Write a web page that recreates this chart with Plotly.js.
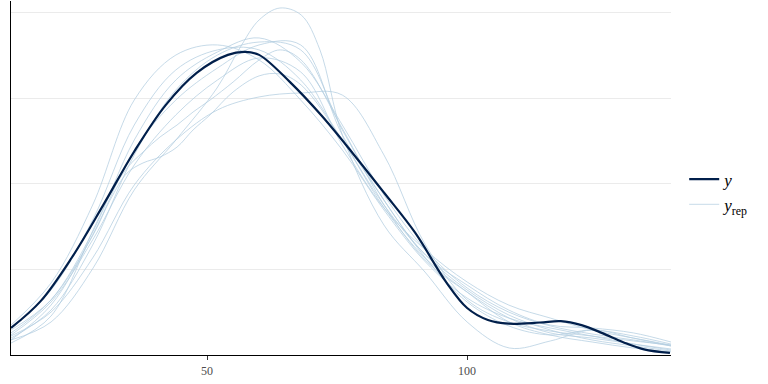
<!DOCTYPE html>
<html>
<head>
<meta charset="utf-8">
<script src="https://cdn.plot.ly/plotly-3.0.1.min.js"></script>
<style>html,body{margin:0;padding:0;background:#fff;}#chart{width:768px;height:384px;}</style>
</head>
<body>
<div id="chart"></div>
<script>
// Observed density (y), values in density x 1000
const yX = [12.3,18,24,30,36,42,48,54,57.3,60,66,72,78,84,90,96,100,104,108,114,118,122,126,130,134,139];
const yDens = [1.58,3.15,5.70,8.75,11.9,14.6,16.5,17.55,17.72,17.55,15.94,14.0,11.8,9.5,7.15,4.25,2.75,2.05,1.83,1.90,1.98,1.75,1.28,0.75,0.33,0.12];

// Replicated densities (y_rep)
const repX = [12.3,20,28,36,44,52,60,68,76,84,92,100,108,116,124,132,139.2];
const shX = [12.31,20.0,28.08,31.35,34.62,37.69,40.96,44.23,47.31,50.58,55.0,60.0,64.04,68.08,75.96,84.04,91.92,100,108.08,115.96,124.04,131.92,139.23];
const rep1X = [12.3,20,28.1,36,44,51.9,56.3,60,64,68.1,71.7,76,84,91.9,100,108.1,116,124,131.9,139.2];
const rep1 = [0.88,1.93,5.09,9.65,12.57,15.61,17.95,19.59,20.29,19.88,17.84,12.87,7.60,4.85,1.93,0.41,0.82,1.46,0.99,0.53];
const rep2 = [1.11,2.51,5.67,9.94,12.57,14.33,15.09,15.32,15.20,11.70,6.43,3.22,1.93,1.40,1.11,0.82,0.58];
const rep3 = [0.70,2.28,7.31,9.36,10.94,11.87,12.75,13.45,14.21,14.91,15.96,17.25,17.84,17.25,13.27,8.77,5.56,3.68,2.16,1.29,0.99,0.64,0.35];
const rep4 = [1.75,4.21,8.77,14.91,17.54,18.13,17.25,14.91,11.99,8.48,5.44,3.33,2.16,1.58,1.11,0.64,0.29];
const rep5 = [1.29,3.22,7.19,12.57,16.08,17.72,18.54,17.13,13.45,9.36,6.14,3.92,2.51,1.70,1.23,0.88,0.53];
const rep6 = [0.99,2.63,6.43,11.70,15.50,17.54,18.30,17.84,13.16,9.06,5.85,4.09,2.63,1.75,1.58,1.29,0.76];
const rep7 = [1.46,3.22,7.02,9.06,10.64,11.23,11.58,12.16,13.16,14.04,15.38,16.32,16.43,15.79,12.57,8.60,5.67,3.68,1.93,1.17,0.76,0.41,0.18];
const rep8 = [1.58,3.80,7.89,13.45,16.67,17.84,17.84,16.08,12.57,8.77,5.85,3.80,2.34,1.46,0.88,0.53,0.23];
const rep9 = [0.88,2.92,7.02,11.99,14.91,16.78,18.13,18.13,12.87,9.06,5.67,3.10,1.70,1.17,1.46,1.11,0.64];
const rep10 = [1.17,3.10,6.73,11.11,14.04,16.08,17.37,16.55,12.28,8.60,6.14,4.27,2.92,2.16,1.46,0.99,0.58];

const xTicks = [50, 100];
const xTickText = ['50', '100'];
const yGrid = [5, 10, 15, 20];

const lightCol = 'rgba(179,205,224,0.75)';
const darkCol = '#011f4b';

const repSeries = [[rep1X, rep1],[repX, rep2],[shX, rep3],[repX, rep4],[repX, rep5],[repX, rep6],[shX, rep7],[repX, rep8],[repX, rep9],[repX, rep10]];
const traces = repSeries.map((s, i) => ({
  x: s[0], y: s[1], type: 'scatter', mode: 'lines',
  line: {color: lightCol, width: 1, shape: 'spline', smoothing: 1},
  name: '<i>y</i><sub>rep</sub>', legendgroup: 'rep', showlegend: i === 0, hoverinfo: 'skip'
}));
traces.push({
  x: yX, y: yDens, type: 'scatter', mode: 'lines',
  line: {color: darkCol, width: 2.2, shape: 'spline', smoothing: 1},
  name: '<i>y</i>', legendgroup: 'y', showlegend: true
});

const layout = {
  width: 768, height: 384,
  margin: {l: 11, r: 97, t: 1, b: 29, pad: 0},
  paper_bgcolor: '#fff', plot_bgcolor: '#fff',
  showlegend: true,
  legend: {
    x: 1.02, xanchor: 'left', y: 0.46, yanchor: 'middle',
    traceorder: 'reversed', tracegroupgap: 0,
    font: {family: 'Liberation Serif', size: 17, color: '#000'},
    itemwidth: 30, bgcolor: 'rgba(0,0,0,0)'
  },
  xaxis: {
    range: [12.3, 139.2], tickmode: 'array', tickvals: xTicks, ticktext: xTickText,
    ticks: 'outside', ticklen: 4, tickcolor: '#333', tickwidth: 1,
    showline: true, linecolor: '#000', linewidth: 1.2,
    showgrid: false, zeroline: false,
    tickfont: {family: 'Liberation Serif', size: 12, color: '#4d4d4d'}
  },
  yaxis: {
    range: [0, 20.7], tickmode: 'array', tickvals: yGrid, showticklabels: false,
    ticks: '', showline: true, linecolor: '#000', linewidth: 1.2,
    showgrid: true, gridcolor: '#ebebeb', gridwidth: 1, zeroline: false
  }
};

Plotly.newPlot('chart', traces, layout, {staticPlot: true, displayModeBar: false});
</script>
</body>
</html>
